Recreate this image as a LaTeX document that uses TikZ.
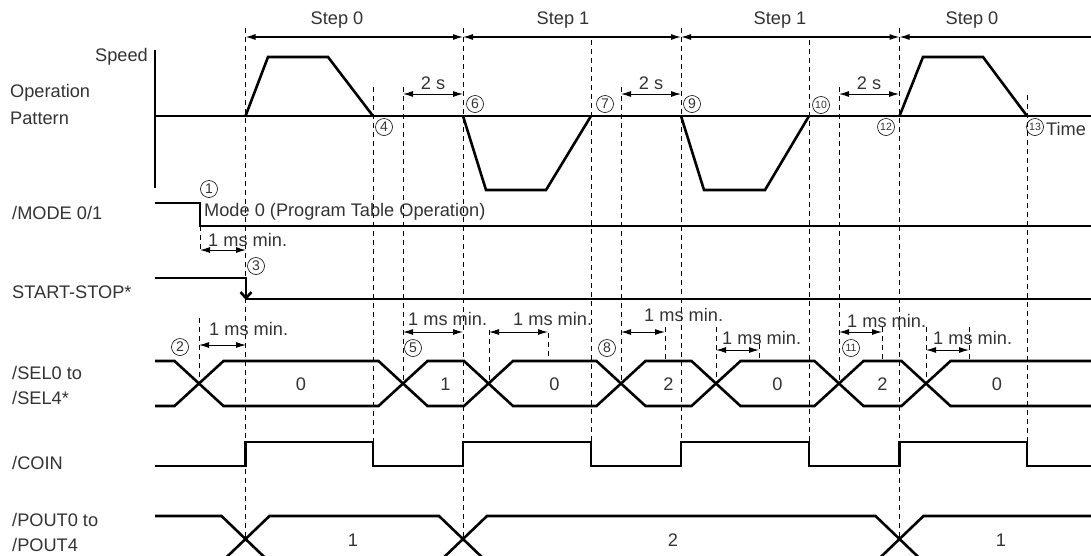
\documentclass[tikz,border=0pt]{standalone}
\usepackage{fontspec}
\setmainfont{Liberation Sans}
\usetikzlibrary{arrows.meta}

\tikzset{
  sig/.style={line width=2.6pt},
  axis/.style={line width=1.1pt},
  guide/.style={line width=0.9pt, dash pattern=on 5pt off 4pt},
  dim/.style={<->, line width=1pt},
  lbl/.style={anchor=west, inner sep=0pt},
  num/.style={circle, draw, line width=0.6pt, inner sep=0pt, minimum size=17pt,
    font=\fontsize{14pt}{14pt}\selectfont},
  numb/.style={num, font=\fontsize{10.5pt}{10.5pt}\selectfont},
}

\begin{document}
\begin{tikzpicture}[x=1pt, y=-1pt, >={Latex[length=10pt,width=6pt]},
    font=\fontsize{18.2pt}{21pt}\selectfont, text=black!80]
  \useasboundingbox (0,0) rectangle (1091,555);
  \clip (0,0) rectangle (1091,555);

  % Guide lines
  \foreach \x/\ya/\yb in {245.5/28/540, 373/87/442, 403/87/383, 463/28/540,
      591/40/442, 621/87/383, 681/28/442, 809/40/442, 839/87/383, 899.5/28/540,
      1027/95/442, 200/226/253, 199/318/383, 489/330/383, 548/333/361,
      665/327/361, 716/327/383, 759/335/361, 882/327/361, 926/327/383, 969/327/361}
    \draw[guide] (\x,\ya) -- (\x,\yb);

  % Steps
  \draw[dim, line width=1.1pt] (245.5,37) -- (463,37);
  \draw[dim, line width=1.1pt] (463,37) -- (681,37);
  \draw[dim, line width=1.1pt] (681,37) -- (899.5,37);
  \draw[<-, line width=1.1pt] (899.5,37) -- (1091,37);
  \node (step0a) at (337,20) {Step 0};
  \node (step1a) at (563,20) {Step 1};
  \node (step1b) at (780,20) {Step 1};
  \node (step0b) at (972,20) {Step 0};

  % Operation pattern
  \node[anchor=east, inner sep=0pt] (speed) at (148,57) {Speed};
  \node[lbl] (oper) at (10,93) {Operation};
  \node[lbl] (patt) at (10,118) {Pattern};
  \draw[axis] (155,50) -- (155,188);
  \draw[axis] (155,116) -- (1091,116);
  \draw[sig] (245.5,116) -- (268,57) -- (328,57) -- (373,116);
  \draw[sig] (463,116) -- (486,190) -- (546,190) -- (591,116);
  \draw[sig] (681,116) -- (704,190) -- (765,190) -- (809,116);
  \draw[sig] (899.5,116) -- (923,57) -- (983,57) -- (1027,116);
  \node[lbl] (time) at (1046,129) {Time};
  \foreach \x in {403,621,839}
    \draw[dim] (\x,94) -- (\x+60,94) node[anchor=base, inner sep=0pt] (ts\x) at (\x+30,89) {2 s};

  % /MODE 0/1
  \node[lbl] (mode) at (12,213) {/MODE 0/1};
  \draw[sig] (155,203) -- (200,203) -- (200,226) -- (1091,226);
  \node[lbl] (modetxt) at (204,212) {Mode 0 (Program Table Operation)};
  \draw[dim] (200,250) -- (246,250);
  \node[lbl] (ms0) at (208,240) {1 ms min.};

  % START-STOP*
  \node[lbl] (start) at (12,292) {START-STOP*};
  \draw[sig, -{Straight Barb[length=6pt,width=11pt]}] (155,278) -- (246,278) -- (246,300);
  \draw[sig] (246,299) -- (1091,299);

  % /SEL0 to /SEL4*
  \node[lbl] (sela) at (12,373) {/SEL0 to};
  \node[lbl] (selb) at (12,398) {/SEL4*};
  \draw[sig] (155,361) -- (174.5,361) -- (199,383.5) -- (174.5,406) -- (155,406);
  \foreach \a/\b in {199/403, 403/488.5, 488.5/621, 621/716, 716/839, 839/926}
    \draw[sig] (\a,383.5) -- (\a+24.5,361) -- (\b-24.5,361) -- (\b,383.5)
      -- (\b-24.5,406) -- (\a+24.5,406) -- cycle;
  \draw[sig] (1091,361) -- (950.5,361) -- (926,383.5) -- (950.5,406) -- (1091,406);
  \foreach \v/\x/\n in {0/301/1, 1/445.5/2, 0/554.5/3, 2/668.5/4, 0/777.5/5, 2/882.5/6, 0/997/7}
    \node (sel\n) at (\x,384) {\v};
  \foreach \a/\b/\y/\lx/\ly in {199/246/345/209/329, 403/463/332/408/319,
      489/548/332/513/319, 621/665/332/644/315, 716/759/350/722/338,
      839/882/332/847/321, 926/969/350/933/338}
  {
    \draw[dim] (\a,\y) -- (\b,\y);
    \node[lbl] (ms\a) at (\lx,\ly) {1 ms min.};
  }

  % /COIN
  \node[lbl] (coin) at (12,463) {/COIN};
  \draw[sig] (155,466) -- (245.5,466) -- (245.5,442) -- (373,442) -- (373,466)
    -- (463,466) -- (463,442) -- (591,442) -- (591,466) -- (681,466) -- (681,442)
    -- (809,442) -- (809,466) -- (899.5,466) -- (899.5,442) -- (1027,442)
    -- (1027,466) -- (1091,466);

  % /POUT0 to /POUT4
  \node[lbl] (pouta) at (12,520) {/POUT0 to};
  \node[lbl] (poutb) at (12,545) {/POUT4};
  \draw[sig] (155,516) -- (221.5,516) -- (245.5,539) -- (221.5,562) -- (155,562);
  \foreach \a/\b in {245.5/463, 463/899.5}
    \draw[sig] (\a,539) -- (\a+24,516) -- (\b-24,516) -- (\b,539)
      -- (\b-24,562) -- (\a+24,562) -- cycle;
  \draw[sig] (1091,516) -- (923.5,516) -- (899.5,539) -- (923.5,562) -- (1091,562);
  \node (pout1) at (353,540) {1};
  \node (pout2) at (673,540) {2};
  \node (pout3) at (1001,540) {1};

  % Event numbers
  \node[num] (e1) at (209,189) {1};
  \node[num] (e2) at (180,347) {2};
  \node[num] (e3) at (256,266) {3};
  \node[num] (e4) at (384,127) {4};
  \node[num] (e5) at (413,348) {5};
  \node[num] (e6) at (475,104) {6};
  \node[num] (e7) at (605,104) {7};
  \node[num] (e8) at (607,348) {8};
  \node[num] (e9) at (692,104) {9};
  \node[numb] (e10) at (821,105) {10};
  \node[numb] (e11) at (851,348) {11};
  \node[numb] (e12) at (886,127) {12};
  \node[numb] (e13) at (1035,127) {13};
\end{tikzpicture}
\end{document}
